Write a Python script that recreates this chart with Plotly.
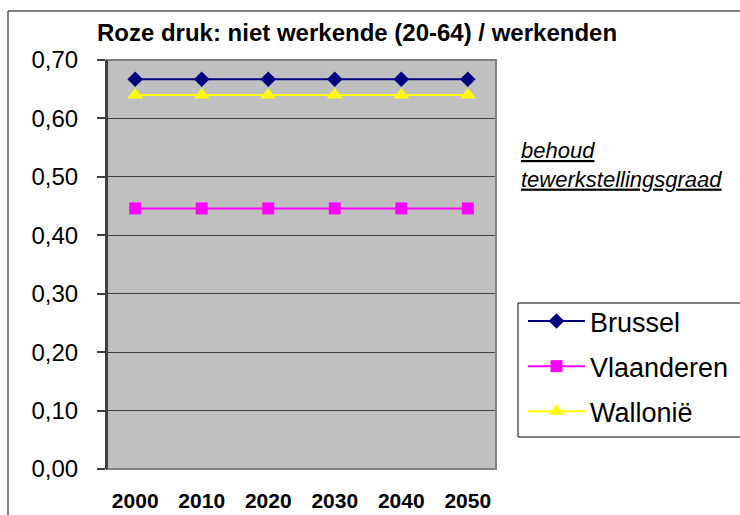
import plotly.graph_objects as go

years = ["2000", "2010", "2020", "2030", "2040", "2050"]
brussel = [0.667, 0.667, 0.667, 0.667, 0.667, 0.667]
vlaanderen = [0.446, 0.446, 0.446, 0.446, 0.446, 0.446]
wallonie = [0.640, 0.640, 0.640, 0.640, 0.640, 0.640]
y_ticks = [0.0, 0.1, 0.2, 0.3, 0.4, 0.5, 0.6, 0.7]

FONT = "Arial, 'Liberation Sans', sans-serif"
W, H = 740, 515
# target plot area in screen pixels
PL, PR, PT, PB = 107, 496, 60, 469
ML, MT, MR, MB = PL, PT, W - PR, H - PB
PW = W - ML - MR
PH = H - MT - MB

def px_x(p):
    return (p - PL) / PW

def px_y(p):
    return (PB - p) / PH

def cx(p):
    return p / W

def cy(p):
    return 1 - p / H

fig = go.Figure()
fig.add_trace(go.Scatter(x=years, y=brussel, name="Brussel", mode="lines+markers",
                         legendgroup="a",
                         line=dict(color="#000080", width=2),
                         marker=dict(symbol="diamond", size=12, color="#000080")))
fig.add_trace(go.Scatter(x=years, y=vlaanderen, name="Vlaanderen", mode="lines+markers",
                         legendgroup="b",
                         line=dict(color="#FF00FF", width=2),
                         marker=dict(symbol="square", size=12, color="#FF00FF")))
fig.add_trace(go.Scatter(x=years, y=wallonie, name="Wallonië", mode="lines+markers",
                         legendgroup="c",
                         line=dict(color="#FFFF00", width=2),
                         marker=dict(symbol="triangle-up", size=14, color="#FFFF00")))

fig.update_layout(
    width=W, height=H,
    margin=dict(l=ML, r=MR, t=MT, b=MB, autoexpand=False),
    paper_bgcolor="white",
    plot_bgcolor="#C0C0C0",
    separators=",.",
    font=dict(family=FONT, color="black"),
    title=dict(text="<b>Roze druk: niet werkende (20-64) / werkenden</b>",
               x=cx(357), xref="container", xanchor="center",
               y=cy(33), yref="container", yanchor="middle",
               font=dict(size=24, family=FONT, color="black")),
    showlegend=True,
    legend=dict(x=cx(523), y=cy(297), xanchor="left", yanchor="top",
                xref="container", yref="container",
                bgcolor="rgba(0,0,0,0)", borderwidth=0,
                font=dict(size=27, family=FONT, color="black"),
                tracegroupgap=7, itemwidth=57,
                traceorder="grouped"),
    xaxis=dict(type="category", showgrid=False, showline=False, zeroline=False,
               ticks="", tickfont=dict(size=21, family=FONT, color="black"),
               tickprefix="<b>", ticksuffix="</b>", ticklabelstandoff=17,
               automargin=False, fixedrange=True),
    yaxis=dict(range=[0, 0.7], tickvals=y_ticks, tickformat=".2f",
               showgrid=True, gridcolor="#404040", gridwidth=1,
               zeroline=False, showline=True, linecolor="#404040", linewidth=2,
               ticks="outside", ticklen=8, tickcolor="#404040", tickwidth=2,
               tickfont=dict(size=24, family=FONT, color="black"),
               ticklabelstandoff=14, automargin=False, fixedrange=True),
    annotations=[
        dict(text="<i><u>behoud</u></i><br><i><u>tewerkstellingsgraad</u></i>",
             x=px_x(519), y=px_y(165), xref="paper", yref="paper",
             xanchor="left", yanchor="middle", align="left", showarrow=False,
             font=dict(size=22, family=FONT, color="black")),
    ],
    shapes=[
        dict(type="rect", xref="paper", yref="paper", x0=0, x1=1, y0=0, y1=1,
             line=dict(color="#808080", width=2), layer="above"),
        dict(type="line", xref="paper", yref="paper", x0=0, x1=0, y0=0, y1=1,
             line=dict(color="#404040", width=2), layer="above"),
        # outer chart border (continues past the window)
        dict(type="rect", xref="paper", yref="paper",
             x0=px_x(8), x1=px_x(780), y0=px_y(560), y1=px_y(11),
             line=dict(color="black", width=1)),
        # legend frame (continues past the right edge)
        dict(type="rect", xref="paper", yref="paper",
             x0=px_x(518), x1=px_x(780), y0=px_y(437), y1=px_y(303),
             line=dict(color="black", width=1), fillcolor="white", layer="below"),
    ],
)

fig.write_html(
    "out.html",
    config={"displayModeBar": False},
    post_script="document.body.style.margin='0';document.body.style.overflow='hidden';",
)
